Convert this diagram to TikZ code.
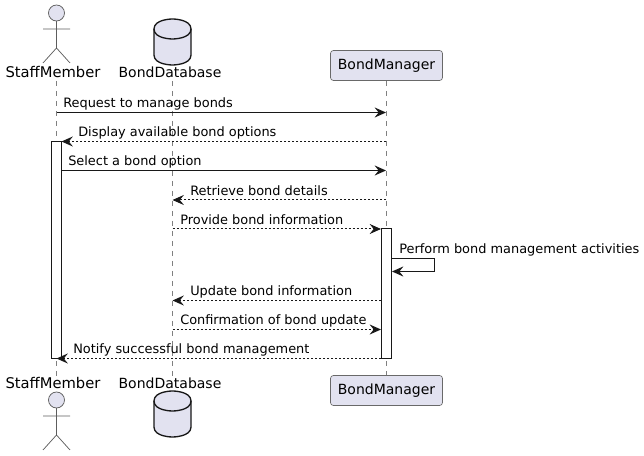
\documentclass[tikz,border=0pt]{standalone}
\usepackage{fontspec}
\setmainfont{DejaVu Sans}
\usepackage{xcolor}
\definecolor{partfill}{HTML}{E2E2F0}
\definecolor{ink}{HTML}{181818}
\usetikzlibrary{arrows.meta, positioning, calc}
\tikzset{
  lifeline/.style={draw=ink!55, line width=0.55pt, dash pattern=on 3.75pt off 3.75pt},
  partbox/.style={draw=ink!65, line width=0.5pt, fill=partfill, rounded corners=2.2pt, minimum width=84pt, minimum height=22.5pt, inner sep=0pt, font=\fontsize{10.5pt}{12pt}\selectfont},
  partname/.style={anchor=base, inner sep=0pt, text=black, font=\fontsize{10.5pt}{12pt}\selectfont},
  msgtext/.style={anchor=base west, inner sep=0pt, text=black, font=\fontsize{9.68pt}{12pt}\selectfont},
  activebar/.style={draw=ink, line width=0.75pt, fill=white, minimum width=7.5pt, inner sep=0pt},
  callmsg/.style={draw=ink, line width=0.75pt, -{Stealth[length=8.5pt, width=7.5pt, inset=3pt]}},
  replymsg/.style={callmsg, dash pattern=on 1.5pt off 1.5pt},
  dbshape/.style={draw=ink, line width=1pt, fill=partfill},
  actorshape/.style={draw=ink!70, line width=0.55pt}
}

\begin{document}
\begin{tikzpicture}[x=0.75pt, y=-0.75pt]
  \useasboundingbox (0,0) rectangle (644,456);

  % Lifelines
  \coordinate (staffTop) at (56.5,81);
  \coordinate (staffEnd) at (56.5,376);
  \coordinate (dbTop) at (172.5,81);
  \coordinate (dbEnd) at (172.5,376);
  \node[partbox] (mgrHead) at (386.5,65.5) {BondManager};
  \node[partbox] (mgrFoot) at (386.5,390.5) {BondManager};
  \draw[lifeline] (staffTop) -- (staffEnd);
  \draw[lifeline] (dbTop) -- (dbEnd);
  \draw[lifeline] (mgrHead) -- (mgrFoot);

  % StaffMember, top and bottom
  \draw[actorshape, fill=partfill] (56.5,13) circle (8);
  \draw[actorshape] (56.5,21) -- (56.5,48) (43,29) -- (70,29) (43,63) -- (56.5,48) -- (70,63);
  \node[partname, font=\fontsize{11.05pt}{12pt}\selectfont] (staffHead) at (53,78) {StaffMember};
  \node[partname, font=\fontsize{11.05pt}{12pt}\selectfont] (staffFoot) at (53,388.5) {StaffMember};
  \draw[actorshape, fill=partfill] (56.5,400) circle (8);
  \draw[actorshape] (56.5,408) -- (56.5,435) (43,416) -- (70,416) (43,450) -- (56.5,435) -- (70,450);

  % BondDatabase, top and bottom
  \foreach \dy in {0,372} {
    \begin{scope}[yshift=-\dy*0.75pt]
      \draw[dbshape] (154,29) .. controls (154,19) and (172.5,19) .. (172.5,19)
        .. controls (172.5,19) and (191,19) .. (191,29) -- (191,55)
        .. controls (191,65) and (172.5,65) .. (172.5,65)
        .. controls (172.5,65) and (154,65) .. (154,55) -- cycle;
      \draw[dbshape, fill=none] (154,29) .. controls (154,39) and (172.5,39) .. (172.5,39)
        .. controls (172.5,39) and (191,39) .. (191,29);
    \end{scope}
  }
  \node[partname] (dbHead) at (170,78) {BondDatabase};
  \node[partname] (dbFoot) at (170,388.5) {BondDatabase};

  % Activation bars
  \node[activebar, minimum height=162.75pt] (staffBar) at (56.5,250) {};
  \node[activebar, minimum height=97.5pt] (mgrBar) at (386.5,293.5) {};

  % Message ends
  \coordinate (m1a) at (56.5,112.5);   \coordinate (m1b) at (386,112.5);
  \coordinate (m2a) at (386,141.5);    \coordinate (m2b) at (61.5,141.5);
  \coordinate (m3a) at (61.5,170.5);   \coordinate (m3b) at (386,170.5);
  \coordinate (m4a) at (386,200);      \coordinate (m4b) at (172.5,200);
  \coordinate (m5a) at (172.5,229);    \coordinate (m5b) at (381,229);
  \coordinate (m6a) at (391.5,258.5);  \coordinate (m6c) at (434,271.5);  \coordinate (m6b) at (392,271.5);
  \coordinate (m7a) at (381,300.5);    \coordinate (m7b) at (172.5,300.5);
  \coordinate (m8a) at (172.5,329.5);  \coordinate (m8b) at (381,329.5);
  \coordinate (m9a) at (381,358.5);    \coordinate (m9b) at (56.5,358.5);

  % Messages
  \draw[callmsg] (m1a) -- (m1b);
  \node[msgtext] (m1text) at (63,107.7) {Request to manage bonds};
  \draw[replymsg] (m2a) -- (m2b);
  \node[msgtext] (m2text) at (78,136.7) {Display available bond options};
  \draw[callmsg] (m3a) -- (m3b);
  \node[msgtext] (m3text) at (68,165.7) {Select a bond option};
  \draw[replymsg] (m4a) -- (m4b);
  \node[msgtext] (m4text) at (190,195.2) {Retrieve bond details};
  \draw[replymsg] (m5a) -- (m5b);
  \node[msgtext] (m5text) at (180,224.2) {Provide bond information};
  \draw[callmsg] (m6a) -| (m6c) -- (m6b);
  \node[msgtext] (m6text) at (399,253.7) {Perform bond management activities};
  \draw[replymsg] (m7a) -- (m7b);
  \node[msgtext] (m7text) at (190,295.7) {Update bond information};
  \draw[replymsg] (m8a) -- (m8b);
  \node[msgtext] (m8text) at (180,324.7) {Confirmation of bond update};
  \draw[replymsg] (m9a) -- (m9b);
  \node[msgtext] (m9text) at (73,353.7) {Notify successful bond management};
\end{tikzpicture}
\end{document}
